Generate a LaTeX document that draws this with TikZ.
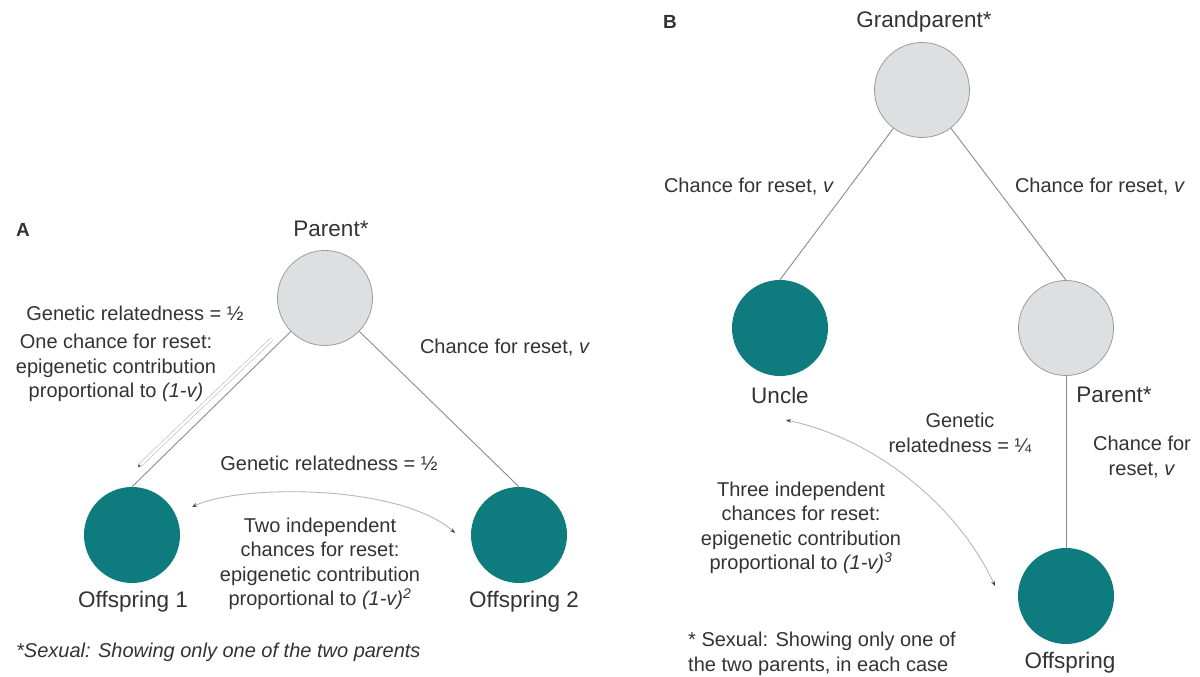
\documentclass[tikz,border=0pt]{standalone}
\usepackage{fontspec}
\setmainfont{Liberation Sans}
\usetikzlibrary{arrows.meta,calc}
\definecolor{tealc}{HTML}{0E7C7E}
\definecolor{gfill}{HTML}{DEDFE1}
\definecolor{gline}{HTML}{9C9C9C}
\definecolor{txt}{HTML}{333333}
\definecolor{conn}{HTML}{8C8C8C}
\definecolor{curvec}{HTML}{B8B8B8}
\begin{document}
\begin{tikzpicture}[x=1pt,y=-1pt,
  lbl/.style={text=txt,font=\fontsize{22.5}{26}\selectfont,inner sep=0pt},
  ann/.style={text=txt,font=\fontsize{20}{24.5}\selectfont,inner sep=0pt,align=center},
  panel/.style={text=txt,font=\fontsize{19}{22}\selectfont\bfseries,inner sep=0pt},
  graynode/.style={circle,minimum size=95pt,inner sep=0pt,fill=gfill,draw=gline,line width=0.8pt},
  tealnode/.style={circle,minimum size=96pt,inner sep=0pt,fill=tealc},
  link/.style={draw=conn,line width=0.9pt},
  rel/.style={draw=curvec,line width=0.9pt,{Stealth[length=5pt,width=3.5pt,color=txt]}-{Stealth[length=5pt,width=3.5pt,color=txt]}},
  dbl/.style={draw=curvec,double=white,double distance=2.6pt,line width=0.6pt,-{Stealth[length=3pt,width=3pt,color=txt]}}
]
\fill[white] (0,0) rectangle (1200,677);
\useasboundingbox (0,0) rectangle (1200,677);

% ---------------- Panel A ----------------
\node[panel] (labA) at (23,230) {A};
\node[graynode] (parA) at (325,298) {};
\node[tealnode] (off1) at (132,535) {};
\node[tealnode] (off2) at (519,535) {};
\node[lbl] (tParA) at (331,229) {Parent*};
\node[lbl] (tOff1) at (133,602) {Offspring 1};
\node[lbl] (tOff2) at (524,602) {Offspring 2};

\draw[link] (parA) -- (off1.north);
\draw[link] (parA) -- (off2.north);
\coordinate (dA1) at (272,339);
\coordinate (dA2) at (138,467);
\draw[dbl] (dA1) -- (dA2);

\coordinate (cA1) at (192,507);
\coordinate (cA2) at (455,533);
\draw[rel] (cA1) .. controls (240,484) and (400,484) .. (cA2);

\node[ann] (gA1) at (135,313) {Genetic relatedness = ½};
\node[ann] (oneA) at (116,368) {One chance for reset:\\epigenetic contribution\\proportional to \textit{(1-v)}};
\node[ann] (chA) at (505,348) {Chance for reset, \textit{v}};
\node[ann] (gA2) at (329,463) {Genetic relatedness = ½};
\node[ann] (twoA) at (320,564) {Two independent\\chances for reset:\\epigenetic contribution\\proportional to \textit{(1-v)}\textsuperscript{\textit{2}}};
\node[ann,anchor=west,font=\fontsize{20}{24.5}\selectfont\itshape] (fnA) at (16,652) {*Sexual: Showing only one of the two parents};

% ---------------- Panel B ----------------
\node[panel] (labB) at (670,22) {B};
\node[graynode] (gp) at (922,90) {};
\node[tealnode] (unc) at (780,328) {};
\node[graynode] (parB) at (1066,328) {};
\node[tealnode] (offB) at (1066,596) {};
\node[lbl] (tGp) at (924,22) {Grandparent*};
\node[lbl] (tUnc) at (780,395) {Uncle};
\node[lbl] (tParB) at (1114,395) {Parent*};
\node[lbl] (tOffB) at (1070,663) {Offspring};

\draw[link] (gp) -- (unc.north);
\draw[link] (gp) -- (parB.north);
\draw[link] (parB) -- (offB);

\coordinate (cB1) at (786,420);
\coordinate (cB2) at (995,586);
\draw[rel] (cB1) .. controls (880,440) and (960,510) .. (cB2);

\node[ann] (chB1) at (749,187) {Chance for reset, \textit{v}};
\node[ann] (chB2) at (1100,187) {Chance for reset, \textit{v}};
\node[ann] (gB) at (960,433) {Genetic\\relatedness = ¼};
\node[ann] (chB3) at (1142,457) {Chance for\\reset, \textit{v}};
\node[ann] (threeB) at (801,528) {Three independent\\chances for reset:\\epigenetic contribution\\proportional to \textit{(1-v)}\textsuperscript{\textit{3}}};
\node[ann,anchor=west,align=left] (fnB) at (688,654) {* Sexual: Showing only one of\\the two parents, in each case};
\end{tikzpicture}
\end{document}
